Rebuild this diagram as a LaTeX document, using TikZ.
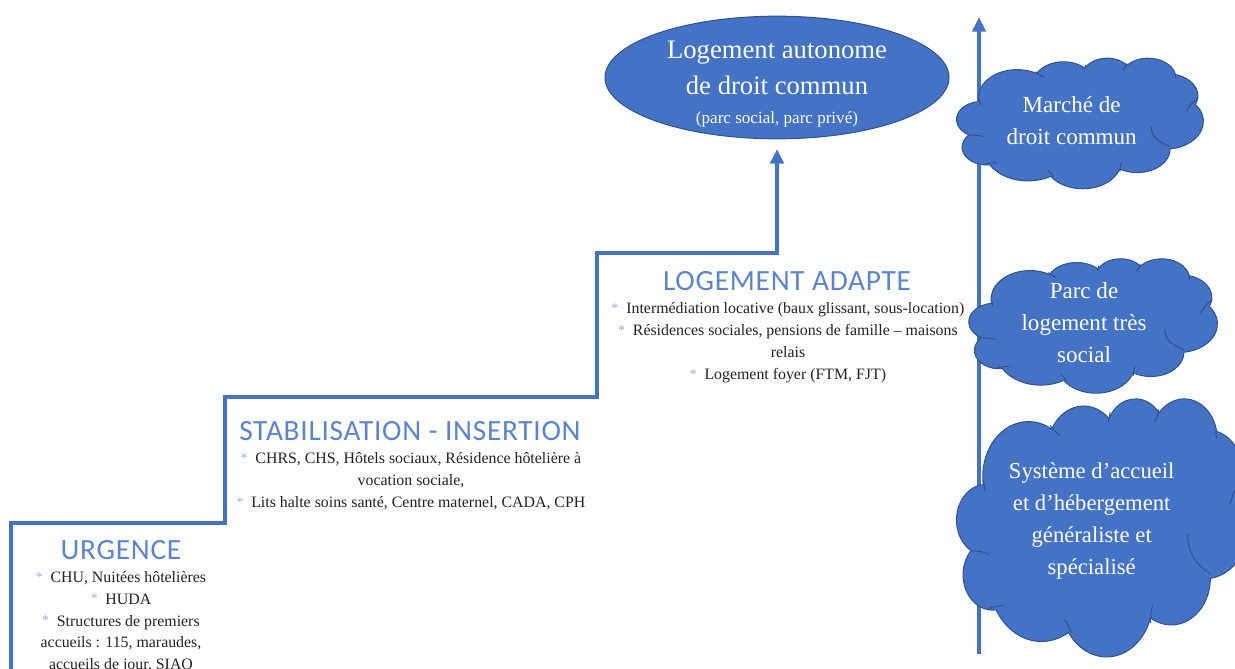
\documentclass[tikz,border=0pt]{standalone}
\usepackage{fontspec}
\setmainfont{Liberation Serif}
\newfontfamily\headfont[LetterSpace=2.5]{Carlito}
\usetikzlibrary{arrows.meta,shapes.geometric}
\definecolor{bl}{HTML}{4472C4}
\definecolor{hbl}{HTML}{5B84CC}
\definecolor{dbl}{HTML}{2F528F}
\definecolor{star}{HTML}{8FAADC}
\definecolor{ink}{HTML}{222222}
\newcommand\bul{{\color{star}\fontsize{10}{10}\selectfont\raisebox{.2ex}{*}}\hspace{.5em}}
\newcommand\mycloud[4]{%
\begin{scope}[shift={(#1,#2)},x=1pt,y=1pt,xscale={#3*0.75/432},yscale={-#4*0.75/432}]
\filldraw[cloudline,fill=bl] (39,143.7)
 foreach \w/\h/\s/\d in {67.53/91.90/-190.487/123.781,53.33/72.67/-144.102/89.945,43.65/59.45/-145.808/99.723,48.57/65.95/-130.986/117.242,53.33/72.73/-78.709/109.027,67.75/92.20/-46.267/130.269,57.85/78.67/0.625/114.033,67.52/92.15/22.452/115.173,77.20/105.43/66.243/75.711,43.60/59.18/-274.942/146.736,43.45/59.45/-246.828/152.519}{
  \pgfextra{%
   \pgfmathsetmacro\tA{atan2(\w*sin(\s),\h*cos(\s))}%
   \pgfmathsetmacro\tB{atan2(\w*sin(\s+\d),\h*cos(\s+\d))}%
   \pgfmathsetmacro\tC{\tA+mod(\tB-\tA+720,360)}%
  }
  arc[start angle=\tA,end angle=\tC,x radius=\w pt,y radius=\h pt]
 } -- cycle;
\draw[cloudline] (40,140) to[bend left=8] (42,156);
\draw[cloudline] (20,256) to[bend right=12] (47,261);
\draw[cloudline] (47,353) to[bend right=8] (70,347);
\draw[cloudline] (159,371) to[bend right=8] (169,393);
\draw[cloudline] (289,347) to[bend left=8] (286,377);
\draw[cloudline] (341,228) to[bend left=28] (374,294);
\draw[cloudline] (403,178) to[bend right=12] (423,134);
\draw[cloudline] (382,54) to[bend left=8] (384,68);
\draw[cloudline] (291,41) to[bend left=12] (298,19);
\draw[cloudline] (223,41) to[bend left=8] (226,24);
\draw[cloudline] (138,46) to[bend left=8] (152,63);
\end{scope}}
\tikzset{
 x=.75pt,y=-.75pt,
 cloudline/.style={draw=dbl,line width=.75pt},
 stair/.style={draw=bl,line width=3.2pt,line join=miter,-{Triangle[length=11pt,width=10pt]}},
 axisline/.style={draw=bl,line width=3pt,-{Triangle[length=11pt,width=10pt]}},
 oval/.style={ellipse,draw=dbl,line width=.75pt,fill=bl,inner sep=0pt,minimum width=258pt,minimum height=92pt},
 head/.style={text=hbl,font=\headfont\fontsize{22}{22}\selectfont,inner sep=0pt},
 body/.style={text=ink,align=center,inner sep=0pt,font=\fontsize{11.9}{16.4}\selectfont},
 wtext/.style={text=white,align=center,inner sep=0pt,font=\fontsize{17.3}{24}\selectfont},
}
\begin{document}
\begin{tikzpicture}
\clip (0,0) rectangle (1235,668);
\coordinate (s0) at (11,670);
\coordinate (s1) at (11,523);
\coordinate (s2) at (225,523);
\coordinate (s3) at (225,397);
\coordinate (s4) at (597,397);
\coordinate (s5) at (597,253);
\coordinate (s6) at (777,253);
\coordinate (s7) at (777,149);
\coordinate (a0) at (979,654);
\coordinate (a1) at (979,17);
\draw[stair] (s0) -- (s1) -- (s2) -- (s3) -- (s4) -- (s5) -- (s6) -- (s7);
\draw[axisline] (a0) -- (a1);
\node[oval] (autonome) at (777,77.5) {};
\node[wtext,font=\fontsize{20}{27}\selectfont] (autonomet) at (777,84) {Logement autonome\\de droit commun\\[-5pt]{\fontsize{12.8}{15}\selectfont (parc social, parc privé)}};
\mycloud{956.7}{57.7}{246.6}{130.6}
\mycloud{969}{258.3}{248.3}{134.4}
\mycloud{956.7}{398}{293}{258}
\node[wtext] (marche) at (1071.7,121) {Marché de\\droit commun};
\node[wtext] (parc) at (1084,323) {Parc de\\logement très\\social};
\node[wtext,font=\fontsize{17}{24}\selectfont] (systeme) at (1091.7,521) {Système d’accueil\\et d’hébergement\\généraliste et\\spécialisé};
\node[head] (h1) at (121,550) {URGENCE};
\node[body,anchor=north] (b1) at (121,571) {\bul CHU, Nuitées hôtelières\\\bul HUDA\\\bul Structures de premiers\\accueils : 115, maraudes,\\accueils de jour, SIAO};
\node[head] (h2) at (410,431) {STABILISATION - INSERTION};
\node[body,anchor=north] (b2) at (411,452.5) {\bul CHRS, CHS, Hôtels sociaux, Résidence hôtelière à\\vocation sociale,\\\bul Lits halte soins santé, Centre maternel, CADA, CPH};
\node[head] (h3) at (787,281) {LOGEMENT ADAPTE};
\node[body,anchor=north] (b3) at (788,302.5) {\bul Intermédiation locative (baux glissant, sous-location)\\\bul Résidences sociales, pensions de famille – maisons\\relais\\\bul Logement foyer (FTM, FJT)};
\end{tikzpicture}
\end{document}
